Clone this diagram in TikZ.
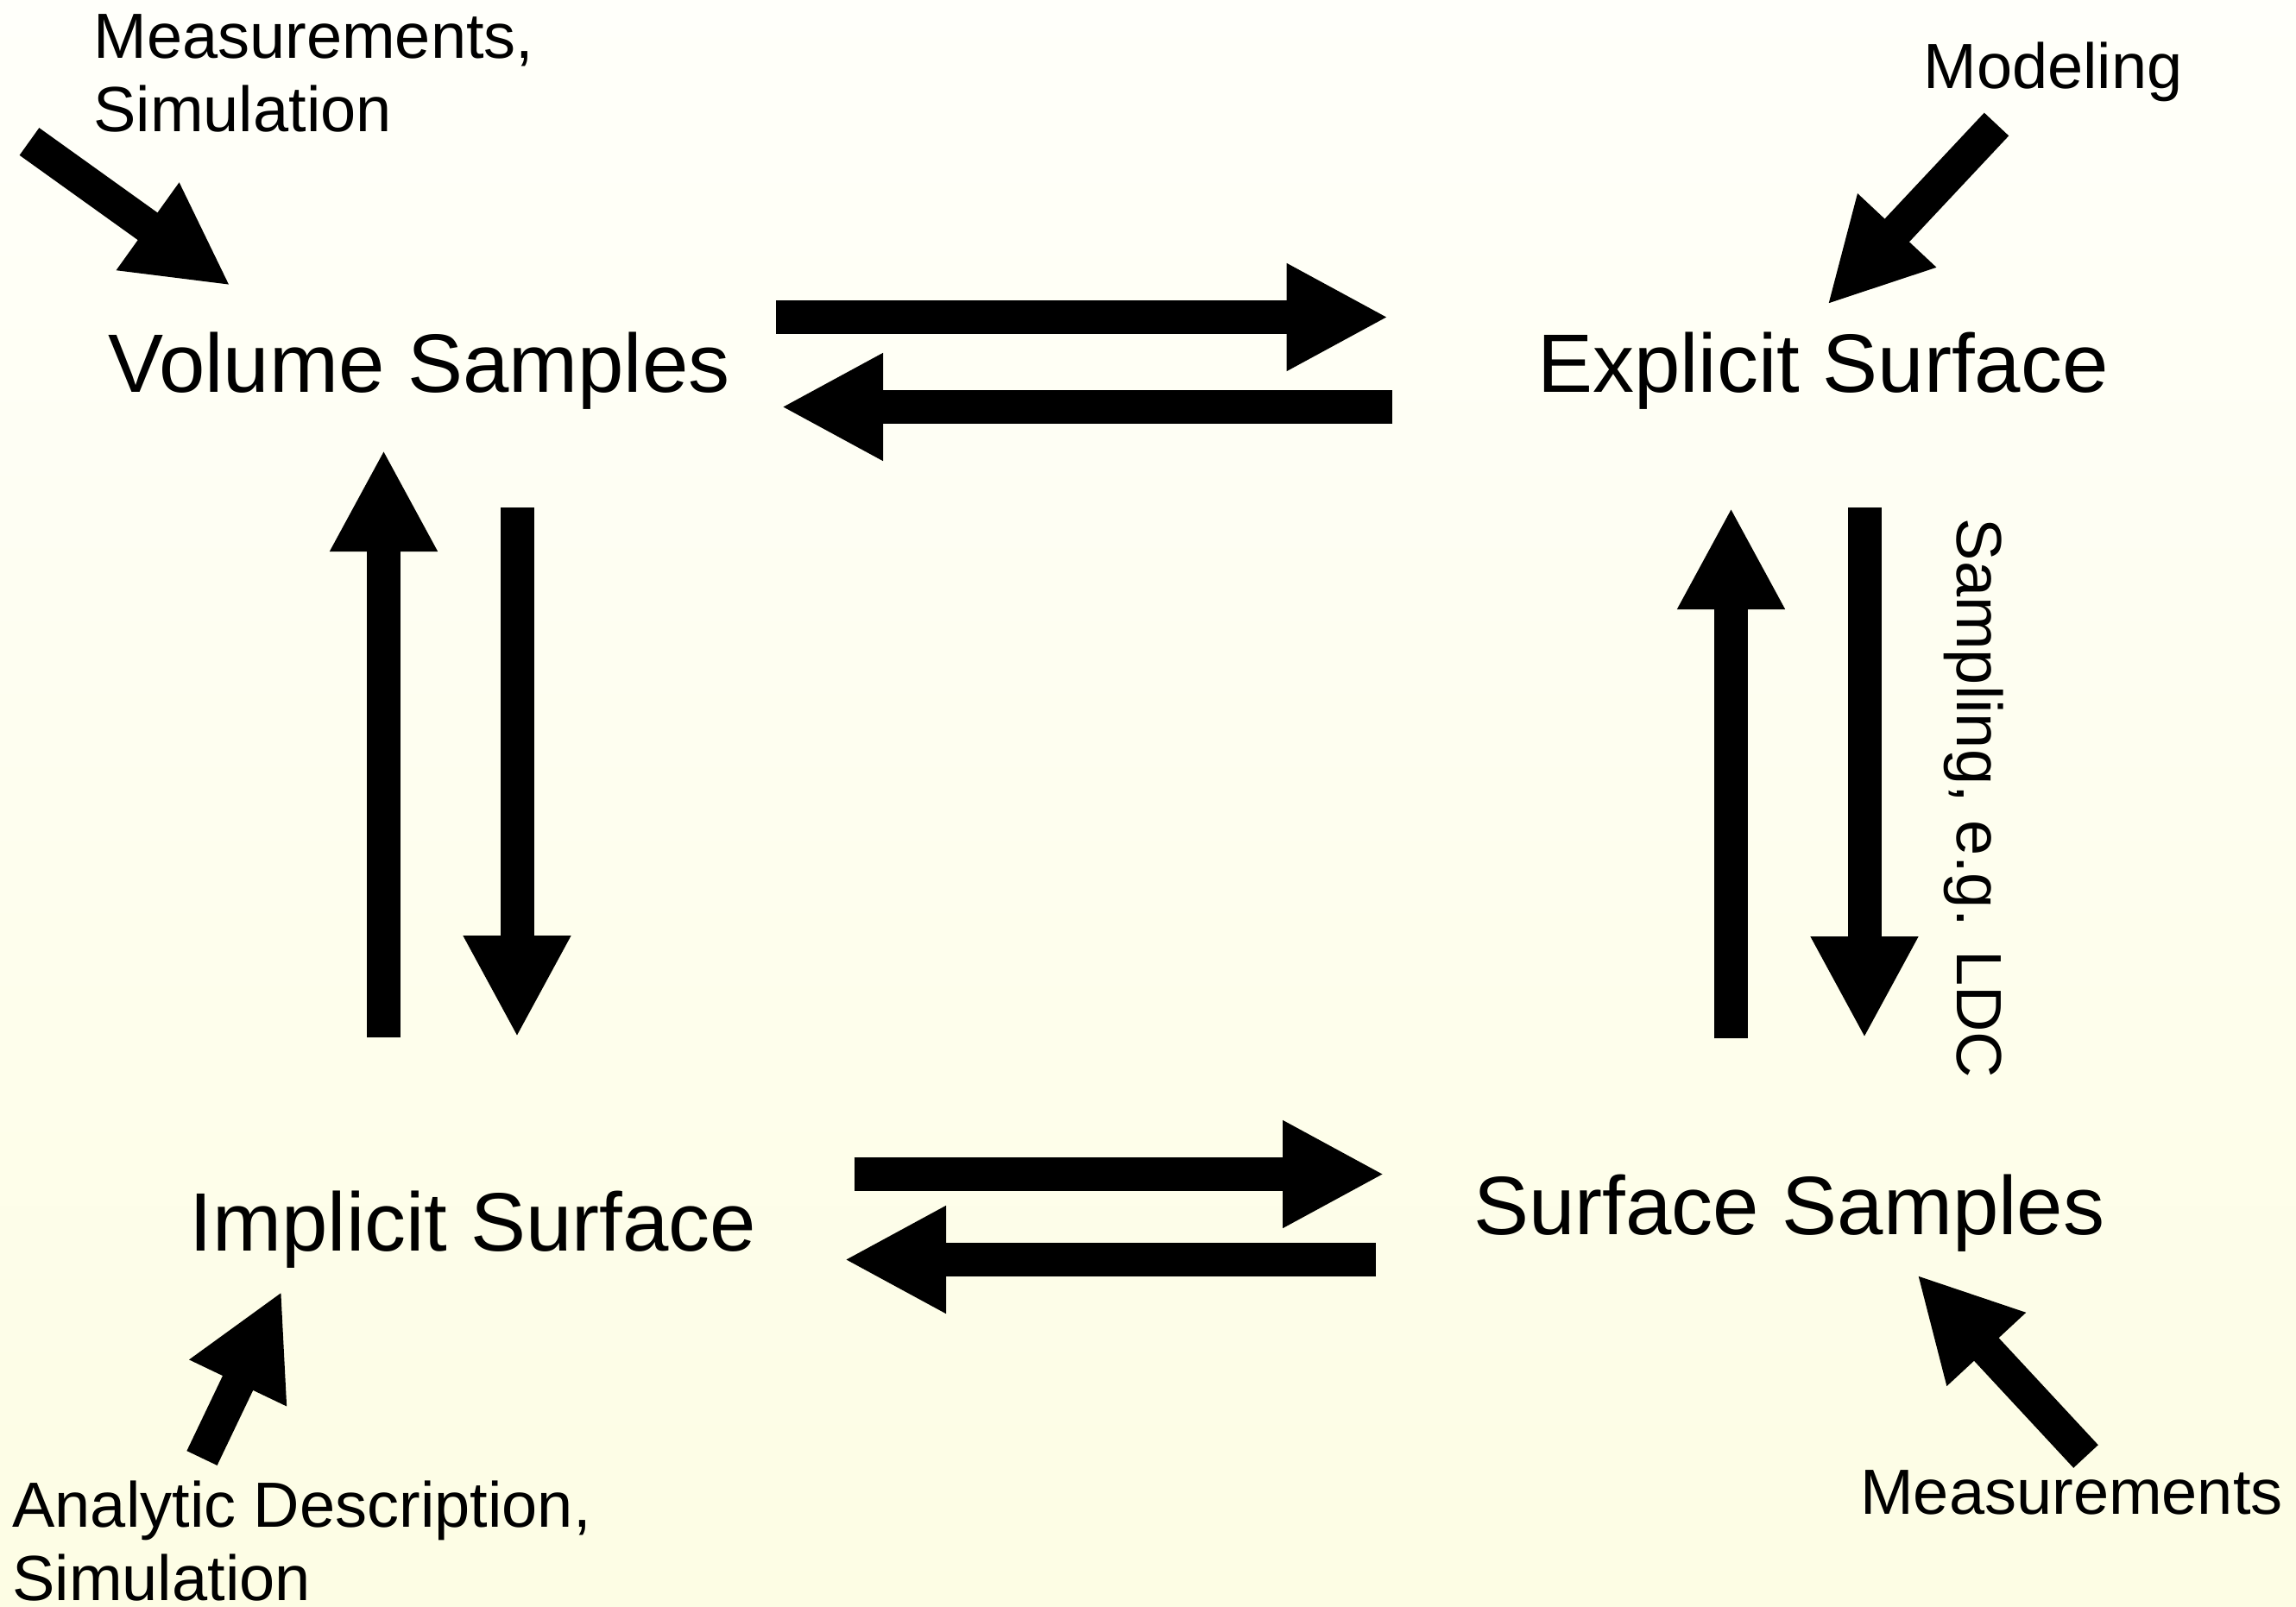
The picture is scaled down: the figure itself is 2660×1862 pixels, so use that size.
\documentclass[tikz,border=0pt]{standalone}
\usepackage{fontspec}
\setmainfont{Liberation Sans}
\usetikzlibrary{arrows.meta}
\definecolor{bgtop}{RGB}{255,255,250}
\definecolor{bgbottom}{RGB}{253,253,228}
\tikzset{
  flow/.style={line width=19.5pt, -{Triangle[length=59pt,width=58pt]}},
  mainlabel/.style={font=\fontsize{48}{58}\selectfont, inner sep=0pt, anchor=base},
  sidelabel/.style={font=\fontsize{37}{42.5}\selectfont, inner sep=0pt},
}
\begin{document}
\begin{tikzpicture}[x=0.5pt,y=-0.5pt]
% background with a soft vertical gradient
\shade[top color=bgtop,bottom color=bgbottom] (0,0) rectangle (2660,1862);
\useasboundingbox (0,0) rectangle (2660,1862);

% the four representations
\node[mainlabel] (vol)  at (485.5,454) {Volume Samples};
\node[mainlabel] (expl) at (2112,454)  {Explicit Surface};
\node[mainlabel] (impl) at (548,1449)  {Implicit Surface};
\node[mainlabel] (surf) at (2073,1430) {Surface Samples};

% sources and annotations (two-line labels are placed by the baseline of their last line)
\node[sidelabel, anchor=base west, align=left] (measA) at (108,153) {Measurements,\\Simulation};
\node[sidelabel, anchor=base] (model) at (2378.5,103) {Modeling};
\node[sidelabel, anchor=base west, align=left] (analytic) at (14,1854) {Analytic Description,\\Simulation};
\node[sidelabel, anchor=base] (measB) at (2400,1754) {Measurements};
\node[sidelabel, anchor=base, rotate=-90] (sampling) at (2267,925) {Sampling, e.g. LDC};

% conversions between volume samples and explicit surface
\coordinate (ve0) at (899,367.5);   \coordinate (ve1) at (1608.6,367.5);
\coordinate (ev0) at (1613,471.5);  \coordinate (ev1) at (905,471.5);
\draw[flow] (ve0) -- (ve1);
\draw[flow] (ev0) -- (ev1);

% conversions between implicit surface and surface samples
\coordinate (is0) at (989.5,1360.5); \coordinate (is1) at (1604,1360.5);
\coordinate (si0) at (1594,1459.5);  \coordinate (si1) at (978,1459.5);
\draw[flow] (is0) -- (is1);
\draw[flow] (si0) -- (si1);

% conversions between volume samples and implicit surface
\coordinate (iv0) at (444.5,1202);  \coordinate (iv1) at (444.5,521);
\coordinate (vi0) at (599,588);     \coordinate (vi1) at (599,1202);
\draw[flow] (iv0) -- (iv1);
\draw[flow] (vi0) -- (vi1);

% conversions between explicit surface and surface samples
\coordinate (se0) at (2005.5,1203); \coordinate (se1) at (2005.5,588);
\coordinate (es0) at (2160,588);    \coordinate (es1) at (2160,1203);
\draw[flow] (se0) -- (se1);
\draw[flow] (es0) -- (es1);

% incoming sources
\coordinate (mA0) at (34,164);      \coordinate (mA1) at (267,331);
\coordinate (mo0) at (2313,144);    \coordinate (mo1) at (2117,353);
\coordinate (an0) at (234,1689.5);  \coordinate (an1) at (326.5,1496);
\coordinate (mB0) at (2416.5,1687.5); \coordinate (mB1) at (2221,1477);
\draw[flow] (mA0) -- (mA1);
\draw[flow] (mo0) -- (mo1);
\draw[flow] (an0) -- (an1);
\draw[flow] (mB0) -- (mB1);
\end{tikzpicture}
\end{document}
